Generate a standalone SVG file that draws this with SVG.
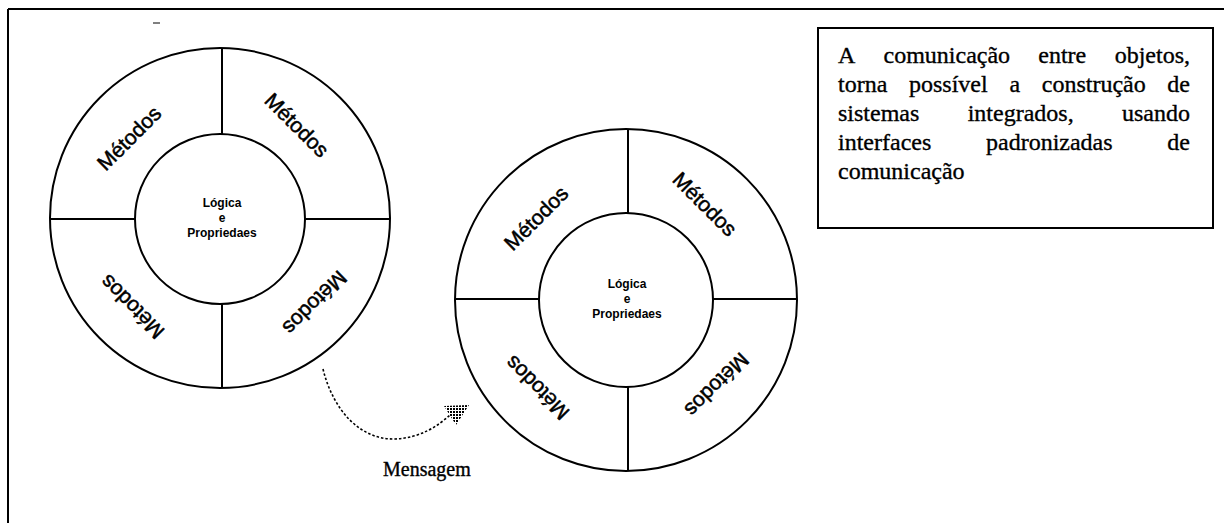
<svg xmlns="http://www.w3.org/2000/svg" width="1224" height="523" viewBox="0 0 1224 523">
<style>
.ln{stroke:#000;stroke-width:2;fill:none}
.met{font-family:"Liberation Sans",Arial,sans-serif;font-size:21px;fill:#000;stroke:#000;stroke-width:0.5;text-anchor:middle;dominant-baseline:central}
.ctr{font-family:"Liberation Sans",Arial,sans-serif;font-size:12px;font-weight:bold;fill:#000;text-anchor:middle}
.tx{font-family:"Liberation Serif","Times New Roman",serif;font-size:24px;fill:#000;stroke:#000;stroke-width:0.35}
</style>
<defs>
<pattern id="chk" width="3" height="3" patternUnits="userSpaceOnUse">
<rect width="3" height="3" fill="#fff"/>
<rect width="2" height="2" fill="#000"/>
</pattern>
</defs>
<rect width="1224" height="523" fill="#fff"/>
<g id="frame">
<path class="ln" d="M8,9 H1224 M8,9 V523"/>
<path d="M153,23 H160" stroke="#000" stroke-width="1"/>
</g>
<g id="objeto1">
<circle class="ln" cx="220" cy="218" r="170"/>
<circle class="ln" cx="220" cy="219" r="85"/>
<path class="ln" d="M50,219 H135 M305,219 H390 M222,48 V134 M222,304 V388"/>
<text class="met" transform="translate(129,138) rotate(-45)">Métodos</text>
<text class="met" transform="translate(297,125) rotate(45)">Métodos</text>
<text class="met" transform="translate(315,303) rotate(135)">Métodos</text>
<text class="met" transform="translate(132,307) rotate(-135)">Métodos</text>
<text class="ctr" x="222" y="207">Lógica</text>
<text class="ctr" x="222" y="222">e</text>
<text class="ctr" x="222" y="237">Propriedaes</text>
</g>
<g id="objeto2">
<circle class="ln" cx="626" cy="300" r="171"/>
<circle class="ln" cx="626" cy="300" r="87"/>
<path class="ln" d="M455,299 H539 M713,299 H797 M628,129 V213 M628,387 V470"/>
<text class="met" transform="translate(536,218) rotate(-45)">Métodos</text>
<text class="met" transform="translate(705,204) rotate(45)">Métodos</text>
<text class="met" transform="translate(717,385) rotate(135)">Métodos</text>
<text class="met" transform="translate(537,388) rotate(-135)">Métodos</text>
<text class="ctr" x="627" y="288">Lógica</text>
<text class="ctr" x="627" y="303">e</text>
<text class="ctr" x="627" y="318">Propriedaes</text>
</g>
<g id="connectors">
<path d="M323,369 C333,410 360,440 395,439 C420,438 438,426 450,415" stroke="#000" stroke-width="1.6" fill="none" stroke-dasharray="2.5,2"/>
<polygon points="444,406 469,405 456,425" fill="url(#chk)"/>
</g>
<g id="mensagem">
<text class="tx" x="383" y="476" style="font-size:20px">Mensagem</text>
</g>
<g id="nota">
<rect class="ln" x="818" y="28" width="395" height="200"/>
<text class="tx" y="63"><tspan x="838">A</tspan><tspan x="883.5">comunicação</tspan><tspan x="1038.3">entre</tspan><tspan x="1190" text-anchor="end">objetos,</tspan></text>
<text class="tx" y="92"><tspan x="838">torna</tspan><tspan x="909">possível</tspan><tspan x="1009.4">a</tspan><tspan x="1041.8">construção</tspan><tspan x="1190" text-anchor="end">de</tspan></text>
<text class="tx" y="121"><tspan x="838">sistemas</tspan><tspan x="967.7">integrados,</tspan><tspan x="1190" text-anchor="end">usando</tspan></text>
<text class="tx" y="150"><tspan x="838">interfaces</tspan><tspan x="986">padronizadas</tspan><tspan x="1190" text-anchor="end">de</tspan></text>
<text class="tx" y="179"><tspan x="838">comunicação</tspan></text>
</g>
</svg>
